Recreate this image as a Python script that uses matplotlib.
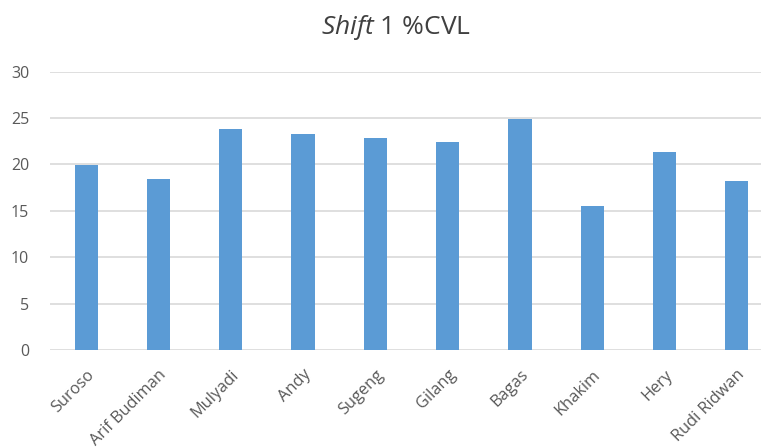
import matplotlib
matplotlib.use("Agg")
import matplotlib.pyplot as plt

names = ["Suroso", "Arif Budiman", "Mulyadi", "Andy", "Sugeng", "Gilang",
         "Bagas", "Khakim", "Hery", "Rudi Ridwan"]
values = [19.9, 18.4, 23.8, 23.3, 22.8, 22.45, 24.9, 15.55, 21.3, 18.25]
yticks = [0, 5, 10, 15, 20, 25, 30]

plt.rcParams['font.family'] = ['Open Sans', 'DejaVu Sans']
plt.rcParams['mathtext.fontset'] = 'custom'
plt.rcParams['mathtext.it'] = 'Open Sans:italic'
plt.rcParams['mathtext.rm'] = 'Open Sans'

fig = plt.figure(figsize=(7.61, 4.48), dpi=100)
ax = fig.add_axes([50/761, 98/448, 723/761, (350-71.7)/448])

x = list(range(len(names)))
ax.bar(x, values, width=0.32, color="#5B9BD5", zorder=3)
ax.set_xlim(-0.5, len(names) - 0.5)
ax.set_ylim(0, 30)
ax.set_yticks(yticks)
ax.set_yticklabels([str(t) for t in yticks], color="#595959", fontsize=11.5)
ax.set_xticks(x)
ax.set_xticklabels(names, rotation=45, ha="right", rotation_mode="anchor",
                   color="#595959", fontsize=11.8)
ax.tick_params(axis="x", length=0, pad=12)
ax.tick_params(axis="y", length=0, pad=15)
ax.grid(axis="y", color="#D9D9D9", linewidth=1.2, zorder=0)
for s in ax.spines.values():
    s.set_visible(False)

fig.text(396/761, 1 - 27/448, r"$\mathit{Shift}$ 1 %CVL", ha="center", va="center",
         fontsize=19, color="#404040")

fig.savefig("out.png", dpi=100)
